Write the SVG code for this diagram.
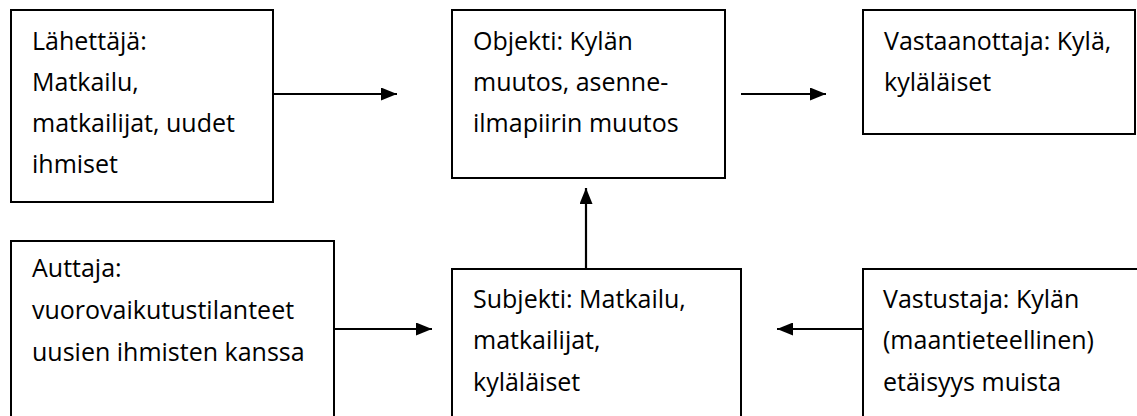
<svg xmlns="http://www.w3.org/2000/svg" width="1137" height="416" viewBox="0 0 1137 416">
<defs>
<style>
.box{fill:#fff;stroke:#000;stroke-width:2}
.t{font-family:"Open Sans","Noto Sans","Liberation Sans",sans-serif;font-size:25px;fill:#000}
.c{stroke:#000;stroke-width:2.2;fill:none}
</style>
<marker id="ah" viewBox="0 0 10 10" refX="10" refY="5" markerWidth="16" markerHeight="13" markerUnits="userSpaceOnUse" orient="auto" preserveAspectRatio="none">
<path d="M0,0 L10,5 L0,10 Z" fill="#000"/>
</marker>
</defs>
<rect width="1137" height="416" fill="#fff"/>
<g id="lahettaja">
<rect class="box" x="11" y="10" width="262" height="192"/>
<text class="t" x="32" y="50">Lähettäjä:</text>
<text class="t" x="32" y="91">Matkailu,</text>
<text class="t" x="32" y="132">matkailijat, uudet</text>
<text class="t" x="32" y="173">ihmiset</text>
</g>
<g id="objekti">
<rect class="box" x="452" y="10" width="273" height="168"/>
<text class="t" x="473" y="50">Objekti: Kylän</text>
<text class="t" x="473" y="91">muutos, asenne-</text>
<text class="t" x="473" y="132">ilmapiirin muutos</text>
</g>
<g id="vastaanottaja">
<rect class="box" x="863" y="10" width="272" height="124"/>
<text class="t" x="884" y="50">Vastaanottaja: Kylä,</text>
<text class="t" x="884" y="91">kyläläiset</text>
</g>
<g id="auttaja">
<rect class="box" x="11" y="241" width="323" height="190"/>
<text class="t" x="32" y="277">Auttaja:</text>
<text class="t" x="32" y="319">vuorovaikutustilanteet</text>
<text class="t" x="32" y="361">uusien ihmisten kanssa</text>
</g>
<g id="subjekti">
<rect class="box" x="452" y="269" width="289" height="160"/>
<text class="t" x="473" y="308">Subjekti: Matkailu,</text>
<text class="t" x="473" y="349">matkailijat,</text>
<text class="t" x="473" y="391">kyläläiset</text>
</g>
<g id="vastustaja">
<rect class="box" x="863" y="269" width="290" height="160"/>
<text class="t" x="883" y="308">Vastustaja: Kylän</text>
<text class="t" x="883" y="349">(maantieteellinen)</text>
<text class="t" x="883" y="391">etäisyys muista</text>
</g>
<g id="connectors">
<line class="c" x1="273" y1="94" x2="397" y2="94" marker-end="url(#ah)"/>
<line class="c" x1="741" y1="94" x2="826" y2="94" marker-end="url(#ah)"/>
<line class="c" x1="586" y1="269" x2="586" y2="188" marker-end="url(#ah)"/>
<line class="c" x1="334" y1="329" x2="432" y2="329" marker-end="url(#ah)"/>
<line class="c" x1="863" y1="329" x2="777" y2="329" marker-end="url(#ah)"/>
</g>
</svg>
